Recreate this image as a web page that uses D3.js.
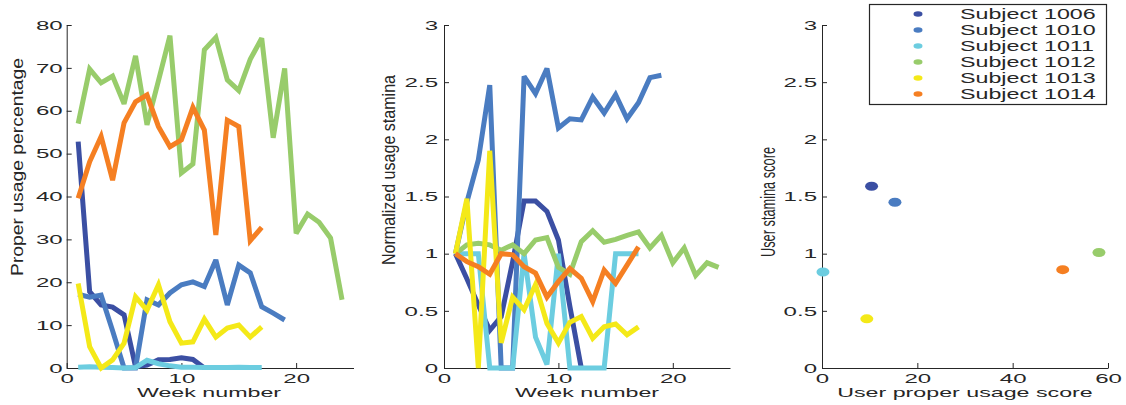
<!DOCTYPE html>
<html>
<head>
<meta charset="utf-8">
<script src="https://cdn.jsdelivr.net/npm/d3@7"></script>
<style>
  body { margin: 0; background: #fff; }
  text { font-family: "Liberation Sans", Arial, sans-serif; fill: #262626; }
  .axis path, .axis line { stroke: #262626; }
</style>
</head>
<body>
<div id="vis"></div>
<script>
// subjects and colours
const SUBJECTS = ["Subject 1006", "Subject 1010", "Subject 1011", "Subject 1012", "Subject 1013", "Subject 1014"];
const COLORS = ["#3b4fa3", "#4a7cc1", "#6ccde0", "#98cc6b", "#f4e918", "#f57f22"];

// proper usage percentage per week (week 1..n)
const usage1006 = [52.8, 17.8, 14.7, 14.2, 12.4, 0.3, 0.7, 1.9, 2.0, 2.4, 2.0, 0];
const usage1010 = [17.2, 16.5, 17, 8.7, 0, 0, 15.9, 14.7, 17.5, 19.4, 20.1, 19, 25.2, 14.7, 24, 22.2, 14.3, 12.8, 11.2];
const usage1011 = [0.2, 0.3, 0.2, 0.1, 0, 0.1, 1.8, 1.0, 0.5, 0.2, 0.2, 0.1, 0.1, 0.1, 0.2, 0.1, 0.1];
const usage1012 = [57, 69.7, 66.5, 68.1, 61.6, 72.8, 56.7, 67, 77.5, 45.5, 47.6, 74.2, 77.1, 67.2, 64.7, 72, 76.9, 53.7, 69.9, 31.4, 35.9, 34, 30.3, 15.9];
const usage1013 = [19.7, 5, 0, 1.9, 5.8, 16.6, 13.5, 19.4, 10.8, 5.8, 6.1, 11.4, 7.2, 9.3, 10, 7.2, 9.6];
const usage1014 = [39.6, 48.1, 54, 43.8, 57.2, 62.1, 63.7, 56.3, 51.6, 53.2, 60.8, 55.5, 31, 57.8, 56.3, 29.7, 32.8];

// normalized usage stamina per week
const stamina1006 = [1.0, 0.78, 0.55, 0.33, 0.45, 0.93, 1.46, 1.46, 1.37, 1.12, 0.54, 0];
const stamina1010 = [1.0, 1.45, 1.82, 2.475, 0, 0, 2.55, 2.40, 2.62, 2.10, 2.18, 2.17, 2.37, 2.23, 2.39, 2.18, 2.32, 2.54, 2.56];
const stamina1011 = [1, 1, 1, 0, 0, 0, 1, 0.27, 0.03, 1, 0, 0, 0, 0, 1, 1, 1];
const stamina1012 = [1.0, 1.077, 1.09, 1.077, 1.03, 1.077, 1.0, 1.12, 1.14, 0.88, 0.82, 1.105, 1.2, 1.1, 1.125, 1.16, 1.19, 1.05, 1.16, 0.92, 1.05, 0.81, 0.92, 0.88];
const stamina1013 = [1.0, 1.48, 0, 1.9, 0.22, 0.62, 0.51, 0.73, 0.39, 0.22, 0.4, 0.45, 0.26, 0.36, 0.385, 0.29, 0.36];
const stamina1014 = [1.0, 0.93, 0.886, 0.82, 1.0, 0.99, 0.886, 0.83, 0.62, 0.755, 0.87, 0.785, 0.58, 0.857, 0.74, 0.9, 1.06];

// per-subject scores
const scoreUsage = [10.4, 15.3, 0.2, 58.1, 9.4, 50.5];
const scoreStamina = [1.59, 1.45, 0.84, 1.01, 0.43, 0.86];

// tick values
const WEEK_TICKS = [0, 10, 20];
const USAGE_TICKS = [0, 10, 20, 30, 40, 50, 60, 70, 80];
const STAMINA_TICKS = [0, 0.5, 1, 1.5, 2, 2.5, 3];
const SCORE_TICKS = [0, 20, 40, 60];

const USAGE = [usage1006, usage1010, usage1011, usage1012, usage1013, usage1014];
const STAMINA = [stamina1006, stamina1010, stamina1011, stamina1012, stamina1013, stamina1014];

const FRAME_WIDTH = 1126;
const FRAME_HEIGHT = 405;
const TOP = 25, BOTTOM = 368;

const svg = d3.select("#vis")
  .append("svg")
    .attr("width", FRAME_WIDTH)
    .attr("height", FRAME_HEIGHT);

svg.append("rect").attr("width", FRAME_WIDTH).attr("height", FRAME_HEIGHT).attr("fill", "#fff");

// the source picture was stretched sideways, so stretch text the same way
function stretch(sel, k) {
  sel.each(function() {
    const w = this.getComputedTextLength();
    d3.select(this).attr("textLength", w * k).attr("lengthAdjust", "spacingAndGlyphs");
  });
}

function drawAxes(x, y, xTicks, yTicks, yPad) {
  const gx = svg.append("g")
    .attr("class", "axis")
    .attr("transform", "translate(0," + BOTTOM + ")")
    .call(d3.axisBottom(x).tickValues(xTicks).tickFormat(d => d)
      .tickSizeInner(-5).tickSizeOuter(0).tickPadding(6));
  const gy = svg.append("g")
    .attr("class", "axis")
    .attr("transform", "translate(" + x.range()[0] + ",0)")
    .call(d3.axisLeft(y).tickValues(yTicks).tickFormat(d => d)
      .tickSizeInner(-5).tickSizeOuter(0).tickPadding(yPad));
  [gx, gy].forEach(g => {
    g.selectAll("text").attr("font-size", 13).attr("fill", "#262626")
      .style("font-family", "'Liberation Sans', Arial, sans-serif");
    stretch(g.selectAll("text"), 1.85);
  });
}

function xLabel(text, cx) {
  const t = svg.append("text")
    .attr("x", cx).attr("y", 397)
    .attr("text-anchor", "middle")
    .attr("font-size", 13.5)
    .text(text);
  stretch(t, 1.72);
}

function yLabel(text, bx, cy, size, len) {
  svg.append("text")
    .attr("transform", "translate(" + bx + "," + cy + ") rotate(-90)")
    .attr("text-anchor", "middle")
    .attr("font-size", size)
    .attr("textLength", len)
    .attr("lengthAdjust", "spacingAndGlyphs")
    .text(text);
}

function drawLines(x, y, series) {
  const line = d3.line()
    .x((d, i) => x(i + 1))
    .y(d => y(d));
  series.forEach((s, i) => {
    svg.append("path")
      .datum(s)
      .attr("d", line)
      .attr("fill", "none")
      .attr("stroke", COLORS[i])
      .attr("stroke-width", 5)
      .attr("stroke-linejoin", "miter")
      .attr("stroke-miterlimit", 3);
  });
}

// PANEL 1: proper usage percentage
const X1 = d3.scaleLinear().domain([0, 25]).range([66.7, 353.5]);
const Y1 = d3.scaleLinear().domain([0, 80]).range([BOTTOM, TOP]);
drawAxes(X1, Y1, WEEK_TICKS, USAGE_TICKS, 4);
drawLines(X1, Y1, USAGE);
xLabel("Week number", 209);
yLabel("Proper usage percentage", 23, 167, 17, 218);

// PANEL 2: normalized usage stamina
const X2 = d3.scaleLinear().domain([0, 25]).range([444, 730]);
const Y2 = d3.scaleLinear().domain([0, 3]).range([BOTTOM, TOP]);
drawAxes(X2, Y2, WEEK_TICKS, STAMINA_TICKS, 6);
drawLines(X2, Y2, STAMINA);
xLabel("Week number", 587);
yLabel("Normalized usage stamina", 395, 170, 19, 190);

// PANEL 3: scores scatter
const X3 = d3.scaleLinear().domain([0, 60]).range([822, 1108]);
const Y3 = d3.scaleLinear().domain([0, 3]).range([BOTTOM, TOP]);
drawAxes(X3, Y3, SCORE_TICKS, STAMINA_TICKS, 5);
xLabel("User proper usage score", 965);
yLabel("User stamina score", 775, 202, 21, 110);

svg.selectAll(".dot")
  .data(SUBJECTS)
  .enter()
  .append("ellipse")
    .attr("class", "dot")
    .attr("cx", (d, i) => X3(scoreUsage[i]))
    .attr("cy", (d, i) => Y3(scoreStamina[i]))
    .attr("rx", 6.5)
    .attr("ry", 4.5)
    .attr("fill", (d, i) => COLORS[i]);

// legend
const legend = svg.append("g");
legend.append("rect")
  .attr("x", 869.5).attr("y", 4.5)
  .attr("width", 237).attr("height", 100)
  .attr("fill", "#fff").attr("stroke", "#262626").attr("stroke-width", 1.2);

const rows = legend.selectAll(".row")
  .data(SUBJECTS)
  .enter()
  .append("g")
    .attr("transform", (d, i) => "translate(0," + (14 + 16 * i) + ")");
rows.append("ellipse")
  .attr("cx", 918).attr("cy", 0)
  .attr("rx", 4.5).attr("ry", 2.8)
  .attr("fill", (d, i) => COLORS[i]);
rows.append("text")
  .attr("x", 960).attr("y", 0).attr("dy", "0.36em")
  .attr("font-size", 14)
  .text(d => d);
stretch(rows.selectAll("text"), 1.66);
</script>
</body>
</html>
